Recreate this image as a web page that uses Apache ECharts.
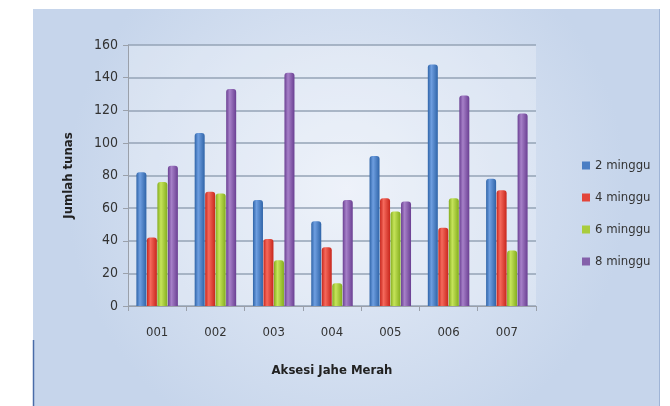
<!DOCTYPE html>
<html style="height: 100%">
    <head>
       <meta charset="utf-8">
    </head>
    <body style="height: 100%; margin: 0; background: #fff">
        <div id="container" style="width: 670px; height: 406px"></div>
        <script src="https://cdn.jsdelivr.net/npm/echarts@6/dist/echarts.min.js"></script>
<script type="text/javascript">

// accessions (x axis)
var categories = ['001', '002', '003', '004', '005', '006', '007'];
// number of shoots per observation week
var minggu2 = [82, 106, 65, 52, 92, 148, 78];
var minggu4 = [42, 70, 41, 36, 66, 48, 71];
var minggu6 = [76, 69, 28, 14, 58, 66, 34];
var minggu8 = [86, 133, 143, 65, 64, 129, 118];
var seriesNames = ['2 minggu', '4 minggu', '6 minggu', '8 minggu'];
var yTicks = [0, 20, 40, 60, 80, 100, 120, 140, 160];

var fontFam = '"DejaVu Sans Condensed", "Liberation Sans Narrow", sans-serif';

// cylinder-ish shading: dark edge, light middle, dark edge
function shade(dark, light) {
    return new echarts.graphic.LinearGradient(0, 0, 1, 0, [
        {offset: 0, color: dark},
        {offset: 0.35, color: light},
        {offset: 1, color: dark}
    ]);
}

var colors = [
    shade('#2f64a8', '#6e9ee0'),
    shade('#c8261c', '#f5695c'),
    shade('#84ad1e', '#c6e45a'),
    shade('#6a3f92', '#a680c8')
];
var legendColors = ['#4a7ec4', '#e3453a', '#a9cc3c', '#8460aa'];

function makeSeries(name, data, idx) {
    return {
        name: name,
        type: 'bar',
        data: data,
        barWidth: 10,
        barGap: '5%',
        itemStyle: {
            color: colors[idx],
            borderRadius: [3, 3, 0, 0]
        }
    };
}

var dom = document.getElementById("container");
var myChart = echarts.init(dom);

var option = {
    animation: false,
    color: legendColors,
    graphic: [
        {
            type: 'rect',
            z: -10,
            shape: {x: 33, y: 9, width: 627, height: 400},
            style: {
                fill: new echarts.graphic.RadialGradient(0.5, 0.45, 0.7, [
                    {offset: 0, color: '#e8eef8'},
                    {offset: 1, color: '#c6d5eb'}
                ])
            }
        },
        {
            type: 'line',
            z: -9,
            shape: {x1: 33.5, y1: 340, x2: 33.5, y2: 406},
            style: {stroke: '#4a6ca8', lineWidth: 1.5}
        },
        {
            type: 'line',
            z: -9,
            shape: {x1: 659.5, y1: 9, x2: 659.5, y2: 406},
            style: {stroke: '#9fb4d6', lineWidth: 1}
        }
    ],
    legend: {
        orient: 'vertical',
        left: 577,
        top: 154,
        itemWidth: 8,
        itemHeight: 8,
        itemGap: 19,
        icon: 'rect',
        data: seriesNames.map(function (n, i) {
            return {name: n, itemStyle: {color: legendColors[i]}};
        }),
        textStyle: {
            fontFamily: fontFam,
            fontSize: 13,
            color: '#333'
        }
    },
    grid: {
        left: 128,
        right: 134,
        top: 45,
        bottom: 100,
        show: true,
        backgroundColor: 'rgba(255,255,255,0.25)',
        borderWidth: 0
    },
    xAxis: {
        type: 'category',
        data: categories,
        name: 'Aksesi Jahe Merah',
        nameLocation: 'middle',
        nameGap: 58,
        nameTextStyle: {
            fontFamily: fontFam,
            fontSize: 13,
            fontWeight: 'bold',
            color: '#222'
        },
        axisLine: {lineStyle: {color: '#9aa0aa', width: 1}},
        axisTick: {show: true, length: 5, lineStyle: {color: '#9aa0aa'}},
        axisLabel: {
            fontFamily: fontFam,
            fontSize: 13,
            color: '#333',
            margin: 20
        }
    },
    yAxis: {
        type: 'value',
        min: yTicks[0],
        max: yTicks[yTicks.length - 1],
        interval: 20,
        name: 'Jumlah tunas',
        nameLocation: 'middle',
        nameGap: 53,
        nameTextStyle: {
            fontFamily: fontFam,
            fontSize: 13,
            fontWeight: 'bold',
            color: '#222'
        },
        axisLine: {show: true, lineStyle: {color: '#9aa0aa', width: 1}},
        axisTick: {show: true, length: 5, lineStyle: {color: '#9aa0aa'}},
        axisLabel: {
            fontFamily: fontFam,
            fontSize: 14,
            color: '#333',
            margin: 10
        },
        splitLine: {
            show: true,
            lineStyle: {color: '#95a3b6', width: 1.5}
        }
    },
    series: [
        makeSeries(seriesNames[0], minggu2, 0),
        makeSeries(seriesNames[1], minggu4, 1),
        makeSeries(seriesNames[2], minggu6, 2),
        makeSeries(seriesNames[3], minggu8, 3)
    ]
};

myChart.setOption(option, true);

</script>
   </body>
</html>
